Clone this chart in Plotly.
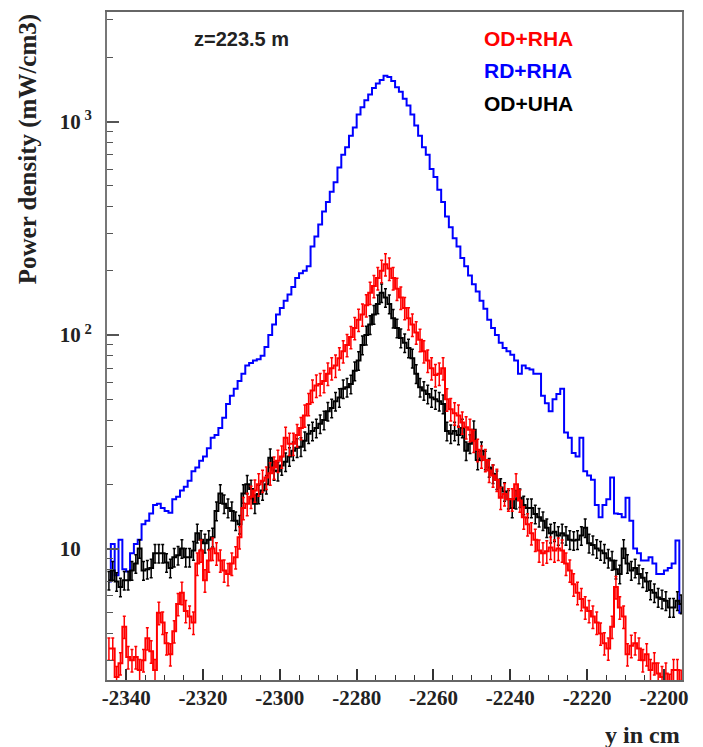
import plotly.graph_objects as go

# ---------------- data (1 cm bins, lower edge -2345 cm) ----------------
bin_start = -2345.0
bin_width = 1.0

rd_rha = [  # blue, RD+RHA
    7.0, 10.5, 7.5, 11.0, 8.0, 7.8, 9.5, 10.5, 11.0, 13.0,
    13.5, 14.6, 16.0, 16.2, 15.5, 15.0, 14.7, 17.0, 17.5, 18.7,
    19.5, 20.8, 23.0, 24.0, 25.8, 27.0, 29.5, 33.0, 34.0, 36.7,
    41, 47.6, 52, 56, 61, 66, 72, 74, 76, 77,
    80, 88, 100, 112, 125, 134, 145, 155, 168, 185,
    195, 200, 210, 260, 290, 330, 380, 420, 470, 520,
    610, 700, 760, 860, 940, 1080, 1170, 1260, 1340, 1440,
    1510, 1570, 1640, 1620, 1550, 1450, 1380, 1280, 1190, 1080,
    960, 860, 760, 700, 600, 550, 480, 420, 360, 320,
    284, 260, 230, 210, 190, 173, 160, 145, 133, 118,
    108, 100, 92, 87, 84, 81, 76, 66, 72, 70,
    69, 66, 66, 52, 48, 44, 50, 53, 56, 35,
    33, 28, 27, 33, 23, 22, 21, 16, 14, 16,
    17, 21.5, 14.6, 14.5, 14, 17.3, 13.5, 10, 9.5, 8.8,
    8.8, 9.1, 8.5, 7.6, 7.6, 7.9, 8.1, 8.5, 10.9, 5.0,
]

od_rha = [  # red, OD+RHA
    3.4, 3.4, 2.5, 2.9, 4.3, 3.1, 3.0, 3.1, 2.7, 3.0,
    3.8, 3.3, 2.7, 5.0, 4.5, 3.6, 3.2, 4.1, 5.5, 6.2,
    5.1, 4.8, 4.5, 8.5, 9.8, 7.1, 8.8, 10.0, 9.5, 8.8,
    7.9, 7.6, 8.5, 9.1, 11.3, 15.5, 16.2, 17.5, 18.7, 20.0,
    20.8, 21.5, 22.5, 24.0, 25.8, 27.0, 33.0, 31.0, 31.0, 34.0,
    36.7, 42, 47.6, 55, 58, 59, 61, 66, 70, 72,
    78, 84, 90, 98, 108, 118, 125, 138, 158, 170,
    185, 200, 215, 205, 185, 165, 150, 134, 120, 112,
    103, 95, 84, 76, 70, 65, 66, 70, 50, 45,
    43, 42, 39, 37, 36, 32, 29, 27, 26, 23.2,
    22, 21, 17.3, 18, 17, 17, 20, 16.8, 14, 13,
    11.8, 11, 9.8, 9.5, 9.7, 10.1, 9.8, 10, 9.8, 8.5,
    7.9, 6.8, 6.2, 5.8, 5.3, 5.1, 4.8, 4.5, 4.0, 3.6,
    3.4, 4.3, 6.6, 5.3, 4.8, 3.2, 3.5, 3.6, 3.4, 3.0,
    3.2, 2.7, 2.9, 2.6, 2.5, 2.6, 2.3, 2.7, 2.7, 2.4,
]

od_uha = [  # black, OD+UHA
    7.1, 7.9, 7.0, 6.6, 7.1, 7.1, 7.9, 8.5, 10.0, 7.9,
    8.0, 8.1, 9.5, 9.5, 9.5, 8.6, 8.1, 9.1, 9.3, 10.0,
    9.1, 9.1, 9.8, 11.8, 11.0, 10.6, 11.0, 11.3, 15.0, 18.1,
    16.2, 15.5, 15.0, 13.5, 13.0, 18.1, 20.0, 19.0, 16.2, 18.0,
    18.7, 20.0, 26.6, 23.2, 23.0, 24.5, 25.5, 27.0, 28.7, 29.7,
    30, 32, 34.5, 35.5, 36.7, 38.4, 40, 44, 45.5, 49,
    51, 56, 57, 59, 68, 76, 90, 100, 112, 125,
    140, 158, 150, 140, 120, 108, 97, 92, 87, 78,
    66, 57, 55, 53, 51, 50, 49, 47.6, 35.5, 34.5,
    35.5, 34, 36.7, 28.7, 31, 36, 26, 28.7, 26, 24,
    22.4, 21, 19.3, 18.5, 17, 15.5, 17, 17.3, 16, 15.5,
    15.5, 14.5, 14, 13.5, 12.5, 11.8, 12, 11.5, 11.8, 11.5,
    11, 10.9, 11, 11.5, 12.5, 10.6, 10.4, 10, 9.8, 9.5,
    9, 8.8, 8, 7.6, 10, 8.5, 7.9, 8.1, 7.6, 7.3,
    7, 6.4, 6.2, 5.9, 5.8, 5.7, 5.3, 5.3, 5.7, 5.5,
]

x_tick_vals = [-2340, -2320, -2300, -2280, -2260, -2240, -2220, -2200]
x_tick_text = ["-2340", "-2320", "-2300", "-2280", "-2260", "-2240", "-2220", "-2200"]
y_tick_vals = [10, 100, 1000]
y_tick_text = ["10<sup>\u00a0\u00a0\u00a0</sup>", "10<sup>\u00a02</sup>", "10<sup>\u00a03</sup>"]
y_minor_vals = [3, 4, 5, 6, 7, 8, 9, 20, 30, 40, 50, 60, 70, 80, 90,
                200, 300, 400, 500, 600, 700, 800, 900, 2000, 3000]

series_names = ["OD+RHA", "RD+RHA", "OD+UHA"]
series_colors = ["#ff0000", "#0000ff", "#000000"]

centers = [bin_start + bin_width * (i + 0.5) for i in range(len(rd_rha))]

fig = go.Figure()

fig.add_trace(go.Scatter(
    x=centers, y=rd_rha, mode="lines", name=series_names[1],
    line=dict(color=series_colors[1], width=2, shape="hvh"),
))
fig.add_trace(go.Scatter(
    x=centers, y=od_uha, mode="lines", name=series_names[2],
    line=dict(color=series_colors[2], width=2, shape="hvh"),
    error_y=dict(type="percent", value=10, color=series_colors[2], thickness=1.5, width=1.5),
))
fig.add_trace(go.Scatter(
    x=centers, y=od_rha, mode="lines", name=series_names[0],
    line=dict(color=series_colors[0], width=2, shape="hvh"),
    error_y=dict(type="percent", value=12, color=series_colors[0], thickness=1.5, width=1.5),
))

serif_bold = "Liberation Serif"
# the page body adds an 8 px offset at left/top: figure is 8 px smaller, left/top margins compensate
fig.update_layout(
    width=695, height=739,
    margin=dict(l=99, r=21, t=2, b=67),
    paper_bgcolor="white", plot_bgcolor="white",
    showlegend=False,
    font=dict(family=serif_bold, color="black"),
)

fig.update_xaxes(
    range=[-2345, -2195.3],
    tickmode="array", tickvals=x_tick_vals, ticktext=x_tick_text,
    ticks="inside", ticklen=11, tickwidth=1.5, tickcolor="#333",
    minor=dict(dtick=5, tick0=0, ticks="inside", ticklen=5, tickwidth=1.2, tickcolor="#333"),
    showline=True, linecolor="#666", linewidth=2, mirror=True,
    showgrid=False, zeroline=False,
    ticklabelstandoff=-2,
    tickfont=dict(family=serif_bold, size=21, color="#222", weight="bold"),
)
fig.update_yaxes(
    type="log", range=[0.384, 3.514],
    tickmode="array", tickvals=y_tick_vals, ticktext=y_tick_text,
    ticks="inside", ticklen=12, tickwidth=1.5, tickcolor="#555",
    minor=dict(tickvals=y_minor_vals, ticks="inside", ticklen=6, tickwidth=1.2, tickcolor="#555"),
    showline=True, linecolor="#777", linewidth=2, mirror=True,
    showgrid=False, zeroline=False,
    ticklabelstandoff=9,
    tickfont=dict(family=serif_bold, size=21, color="#222", weight="bold"),
)

annots = [
    dict(text="Power density (mW/cm3)", x=-0.137, y=1.0, xref="paper", yref="paper",
         xanchor="center", yanchor="top", textangle=-90, showarrow=False,
         font=dict(family=serif_bold, size=25, color="#222", weight="bold")),
    dict(text="y in cm", x=1.0, y=-0.082, xref="paper", yref="paper",
         xanchor="right", yanchor="middle", showarrow=False,
         font=dict(family=serif_bold, size=24, color="#222", weight="bold")),
    dict(text="z=223.5 m", x=0.148, y=0.960, xref="paper", yref="paper",
         xanchor="left", yanchor="middle", showarrow=False,
         font=dict(family="Liberation Sans", size=20, color="#222", weight="bold")),
]
legend_y = [0.961, 0.913, 0.863]
for name, color, ly in zip(series_names, series_colors, legend_y):
    annots.append(dict(text=name, x=0.652, y=ly, xref="paper", yref="paper",
                       xanchor="left", yanchor="middle", showarrow=False,
                       font=dict(family="Liberation Sans", size=21, color=color, weight="bold")))
fig.update_layout(annotations=annots)

fig.write_html("out.html")
